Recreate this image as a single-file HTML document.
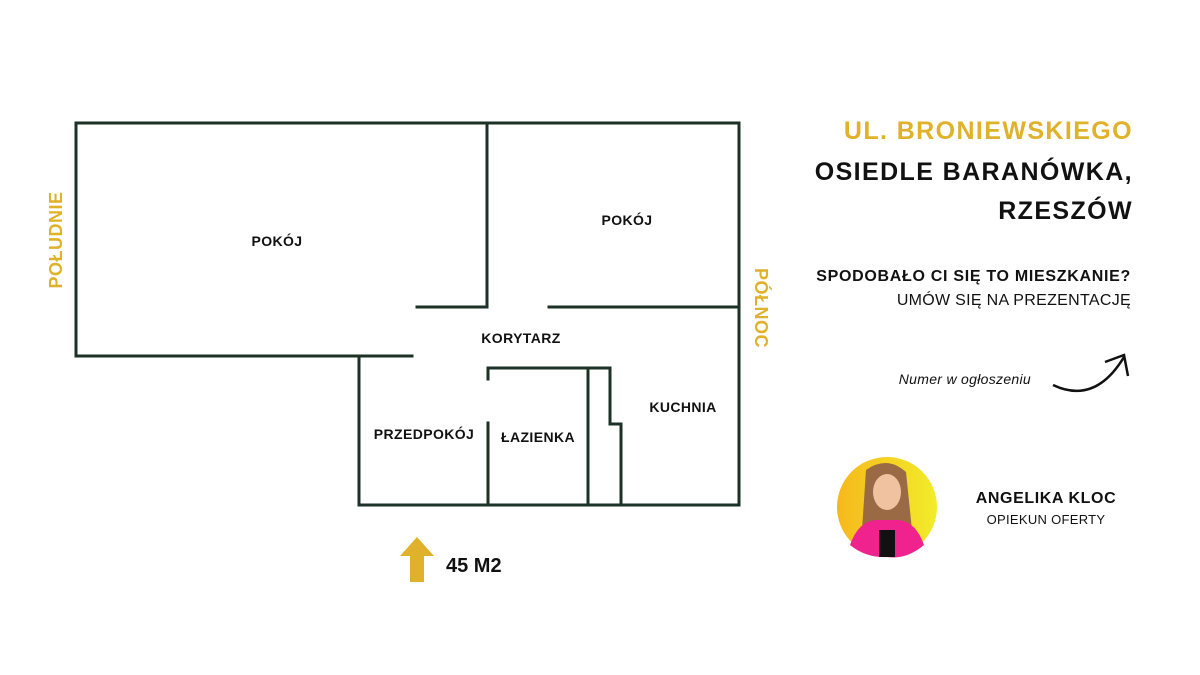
<!DOCTYPE html>
<html><head><meta charset="utf-8"><style>
body{margin:0;width:1200px;height:675px;background:#fff;overflow:hidden;font-family:"Liberation Sans",sans-serif}
svg{position:absolute;left:0;top:0}
</style></head><body>
<svg width="1200" height="675" viewBox="0 0 1200 675">
<defs><linearGradient id="g" x1="0" y1="0" x2="1" y2="0"><stop offset="0" stop-color="#f6b81c"/><stop offset="1" stop-color="#f2ec2a"/></linearGradient></defs>
<g stroke="#1d3226" stroke-width="3" fill="none" stroke-linecap="square">
<polyline points="76,356 76,123 739,123 739,505 359,505 359,356"/>
<line x1="76" y1="356" x2="412" y2="356"/>
<line x1="487" y1="123" x2="487" y2="307"/>
<line x1="417" y1="307" x2="487" y2="307"/>
<line x1="549" y1="307" x2="739" y2="307"/>
<polyline points="488,379 488,368 610,368 610,424 621,424 621,505"/>
<line x1="488" y1="423" x2="488" y2="505"/>
<line x1="588" y1="368" x2="588" y2="505"/>
</g>
<g font-family="Liberation Sans,sans-serif" font-weight="bold" font-size="14" fill="#111" text-anchor="middle" letter-spacing="0.4">
<text x="277" y="246">POKÓJ</text>
<text x="627" y="225">POKÓJ</text>
<text x="521" y="343">KORYTARZ</text>
<text x="683" y="412">KUCHNIA</text>
<text x="424" y="439">PRZEDPOKÓJ</text>
<text x="538" y="442">ŁAZIENKA</text>
</g>
<text transform="translate(62,240) rotate(-90)" text-anchor="middle" font-weight="bold" font-size="18" fill="#e0b12a" font-family="Liberation Sans,sans-serif" letter-spacing="0.5">POŁUDNIE</text>
<text transform="translate(755,308) rotate(90)" text-anchor="middle" font-weight="bold" font-size="18" fill="#e0b12a" font-family="Liberation Sans,sans-serif" letter-spacing="0.5">PÓŁNOC</text>
<polygon points="417,537 434,556 424,556 424,582 410,582 410,556 400,556" fill="#e0b12a"/>
<text x="446" y="572" font-weight="bold" font-size="20" fill="#111" font-family="Liberation Sans,sans-serif">45 M2</text>
<g font-family="Liberation Sans,sans-serif" text-anchor="end">
<text x="1133" y="139" font-weight="bold" font-size="25" fill="#e0b12a" letter-spacing="1.4">UL. BRONIEWSKIEGO</text>
<text x="1133" y="180" font-weight="bold" font-size="25" fill="#111" letter-spacing="1.4">OSIEDLE BARANÓWKA,</text>
<text x="1133" y="219" font-weight="bold" font-size="25" fill="#111" letter-spacing="1.4">RZESZÓW</text>
<text x="1131" y="281" font-weight="bold" font-size="16" fill="#111" letter-spacing="0.7">SPODOBAŁO CI SIĘ TO MIESZKANIE?</text>
<text x="1131" y="305" font-size="16" fill="#111" letter-spacing="0.3">UMÓW SIĘ NA PREZENTACJĘ</text>
<text x="1031" y="384" font-style="italic" font-size="14" fill="#111" letter-spacing="0.3">Numer w ogłoszeniu</text>
</g>
<path d="M1053,385 Q1095,405 1124,357" stroke="#111" stroke-width="2.5" fill="none"/>
<polyline points="1105,362 1124,355 1128,376" stroke="#111" stroke-width="2.5" fill="none"/>
<circle cx="887" cy="507" r="50" fill="url(#g)"/>
<path d="M866,470 Q887,455 906,472 L912,530 Q900,520 887,520 Q872,520 862,530 Z" fill="#9a6a45"/>
<ellipse cx="887" cy="492" rx="14" ry="18" fill="#f0c2a0"/>
<path d="M850,545 Q858,522 875,520 L899,520 Q916,522 924,545 Q906,560 887,557 Q866,558 850,545Z" fill="#f0228e"/>
<rect x="879" y="530" width="16" height="27" fill="#111"/>
<text x="1046" y="503" text-anchor="middle" font-weight="bold" font-size="16" fill="#111" font-family="Liberation Sans,sans-serif" letter-spacing="0.6">ANGELIKA KLOC</text>
<text x="1046" y="524" text-anchor="middle" font-size="13" fill="#111" font-family="Liberation Sans,sans-serif" letter-spacing="0.3">OPIEKUN OFERTY</text>
</svg>
</body></html>
